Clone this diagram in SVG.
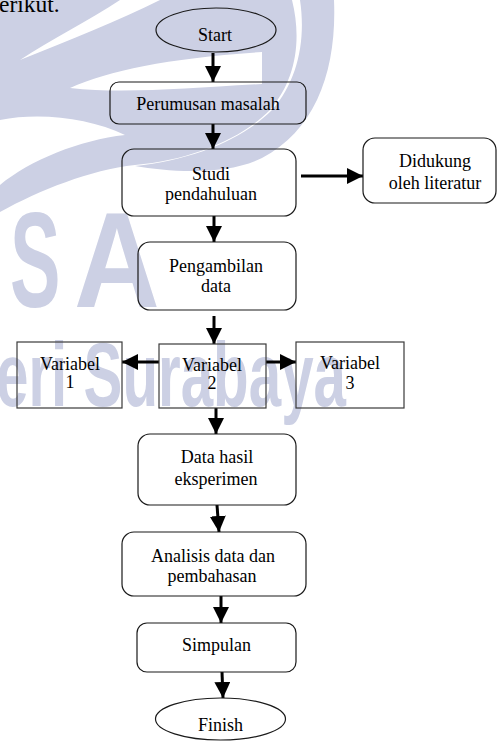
<svg xmlns="http://www.w3.org/2000/svg" width="498" height="742" viewBox="0 0 498 742">
<defs>
<style>
.wm{fill:#ccd0e4;}
.wt{fill:#ffffff;}
.wmt{fill:#ccd0e4;font-family:"Liberation Sans","Roboto",sans-serif;font-weight:700;}
.box{fill:none;stroke:#1a1a1a;stroke-width:1.2;}
.sq{fill:none;stroke:#3a3a3a;stroke-width:1.2;}
.t{font-family:"Liberation Serif","Times New Roman",serif;font-size:18px;fill:#000;text-anchor:middle;}
.c{fill:none;stroke:#000;stroke-width:3;marker-end:url(#ah);}
</style>
<marker id="ah" markerUnits="userSpaceOnUse" markerWidth="17" markerHeight="16" refX="16" refY="8" orient="auto">
<path d="M0,0 L16,8 L0,16 Z" fill="#000"/>
</marker>
</defs>
<rect width="498" height="742" fill="#ffffff"/>
<g id="watermark">
<path class="wm" d="M0,0 L292,0 C302,40 296,80 270,110 C240,140 190,160 135,165 C90,170 40,190 0,212 Z"/>
<path class="wm" d="M300,0 L334,0 C337,70 316,130 262,158 C226,176 170,172 135,166 C192,160 242,140 272,110 C298,80 306,40 300,0 Z"/>
<path class="wt" d="M70,88 C110,70 170,58 262,52 L262,84 C185,88 125,94 70,88 Z"/>
<path class="wt" d="M0,120 C40,112 90,118 125,135 C80,140 30,160 0,185 Z"/>
<path class="wt" d="M120,0 L160,0 C120,20 70,40 20,60 C50,40 90,20 120,0 Z"/>
<text class="wmt" x="10" y="307" font-size="135" transform="translate(10,0) scale(0.56,1) translate(-10,0)">S</text>
<text class="wmt" x="74" y="307" font-size="135" transform="translate(74,0) scale(0.88,1) translate(-74,0)">A</text>
<text class="wmt" x="-4" y="406" font-size="90" textLength="350" lengthAdjust="spacingAndGlyphs">eri Surabaya</text>
</g>
<text x="-1" y="12" style="font-family:'Liberation Serif','Times New Roman',serif;font-size:23.5px;fill:#000;">erikut.</text>
<g id="connectors">
<path class="c" d="M213,53 L213,82"/>
<path class="c" d="M213,124 L213,149"/>
<path class="c" d="M301,176 L363,176"/>
<path class="c" d="M214,216 L214,242"/>
<path class="c" d="M214,316 L214,344"/>
<path class="c" d="M159,362 L122,362"/>
<path class="c" d="M266,362 L296,362"/>
<path class="c" d="M216,408 L216,434"/>
<path class="c" d="M217,505 L219,532"/>
<path class="c" d="M221,596 L221,623"/>
<path class="c" d="M222,672 L223,698"/>
</g>
<g id="start">
<ellipse class="box" cx="216" cy="30" rx="60" ry="22"/>
<text class="t" x="215" y="41">Start</text>
</g>
<g id="perumusan">
<rect class="box" x="110" y="82" width="196" height="42" rx="9"/>
<text class="t" x="208" y="110">Perumusan masalah</text>
</g>
<g id="studi">
<rect class="box" x="122" y="149" width="174" height="67" rx="12"/>
<text class="t" x="211" y="180">Studi</text>
<text class="t" x="211" y="199.5">pendahuluan</text>
</g>
<g id="didukung">
<rect class="box" x="363" y="138" width="133" height="65" rx="12"/>
<text class="t" x="435" y="167">Didukung</text>
<text class="t" x="435" y="189">oleh literatur</text>
</g>
<g id="pengambilan">
<rect class="box" x="138" y="242" width="158" height="68" rx="12"/>
<text class="t" x="216" y="272">Pengambilan</text>
<text class="t" x="216" y="292">data</text>
</g>
<g id="variabel1">
<rect class="sq" x="17" y="342" width="105" height="66"/>
<text class="t" x="70" y="370">Variabel</text>
<text class="t" x="70" y="388">1</text>
</g>
<g id="variabel2">
<rect class="sq" x="159" y="344" width="107" height="64"/>
<text class="t" x="212" y="371">Variabel</text>
<text class="t" x="212" y="389">2</text>
</g>
<g id="variabel3">
<rect class="sq" x="296" y="342" width="108" height="66"/>
<text class="t" x="350" y="369">Variabel</text>
<text class="t" x="350" y="389">3</text>
</g>
<g id="datahasil">
<rect class="box" x="138" y="434" width="158" height="71" rx="12"/>
<text class="t" x="217" y="463">Data hasil</text>
<text class="t" x="216" y="485">eksperimen</text>
</g>
<g id="analisis">
<rect class="box" x="122" y="532" width="184" height="64" rx="12"/>
<text class="t" x="213" y="561.5">Analisis data dan</text>
<text class="t" x="212" y="581.5">pembahasan</text>
</g>
<g id="simpulan">
<rect class="box" x="137" y="623" width="159" height="49" rx="10"/>
<text class="t" x="216.5" y="650.5">Simpulan</text>
</g>
<g id="finish">
<ellipse class="box" cx="220.5" cy="719" rx="65" ry="21"/>
<text class="t" x="220.5" y="730.5">Finish</text>
</g>
</svg>
